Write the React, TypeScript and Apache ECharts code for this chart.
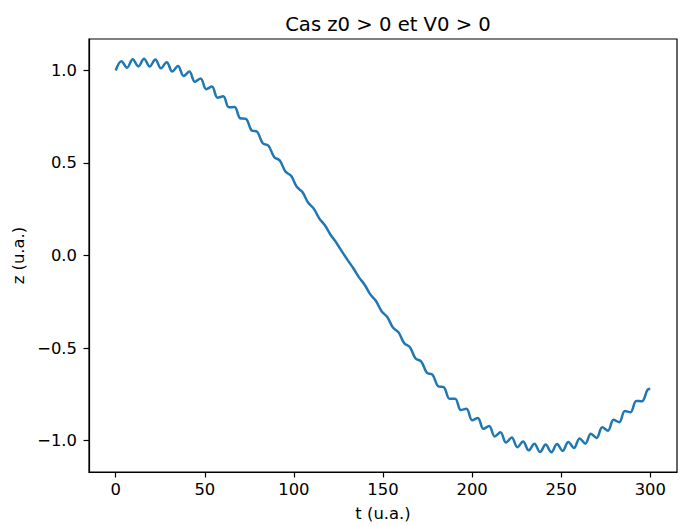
import React, { useEffect, useRef } from "react";
import * as echarts from "echarts";

// Time samples (t, u.a.) read at the fast-oscillation extrema, plus the end point
const tValues = [
  0, 3.18, 6.35, 9.53, 12.7, 15.88, 19.05, 22.23, 25.4, 28.58,
  31.75, 34.93, 38.1, 41.28, 44.45, 47.63, 50.8, 53.98, 57.15, 60.33,
  63.5, 66.68, 69.85, 73.03, 76.2, 79.38, 82.55, 85.73, 88.9, 92.08,
  95.25, 98.43, 101.6, 104.78, 107.95, 111.13, 114.3, 117.48, 120.65, 123.83,
  127, 130.18, 133.35, 136.53, 139.7, 142.88, 146.05, 149.23, 152.4, 155.58,
  158.75, 161.93, 165.1, 168.28, 171.45, 174.63, 177.8, 180.98, 184.15, 187.33,
  190.5, 193.68, 196.85, 200.03, 203.2, 206.38, 209.55, 212.73, 215.9, 219.08,
  222.25, 225.43, 228.6, 231.78, 234.95, 238.13, 241.3, 244.48, 247.65, 250.83,
  254, 257.18, 260.35, 263.53, 266.7, 269.88, 273.05, 276.23, 279.4, 282.58,
  285.75, 288.93, 292.1, 295.28, 298.45, 300,
];

// z values (u.a.) at those times
const zValues = [
  0.999, 1.049, 1.014, 1.06, 1.021, 1.063, 1.02, 1.058, 1.011, 1.044,
  0.994, 1.023, 0.969, 0.993, 0.938, 0.956, 0.898, 0.912, 0.852, 0.86,
  0.8, 0.802, 0.741, 0.738, 0.676, 0.668, 0.606, 0.593, 0.532, 0.513,
  0.453, 0.43, 0.371, 0.343, 0.286, 0.253, 0.199, 0.162, 0.111, 0.069,
  0.021, -0.025, -0.069, -0.118, -0.158, -0.21, -0.246, -0.301, -0.332, -0.389,
  -0.415, -0.474, -0.495, -0.556, -0.572, -0.633, -0.644, -0.706, -0.711, -0.773,
  -0.773, -0.834, -0.828, -0.889, -0.877, -0.936, -0.92, -0.977, -0.955, -1.01,
  -0.983, -1.035, -1.004, -1.052, -1.016, -1.061, -1.021, -1.062, -1.018, -1.055,
  -1.007, -1.039, -0.988, -1.016, -0.962, -0.985, -0.928, -0.946, -0.887, -0.9,
  -0.84, -0.846, -0.785, -0.787, -0.725, -0.719,
];

const xTicks = [0, 50, 100, 150, 200, 250, 300];
const yTicks = [-1, -0.5, 0, 0.5, 1];
const titleText = "Cas z0 > 0 et V0 > 0";
const xLabel = "t (u.a.)";
const yLabel = "z (u.a.)";

export default function App() {
  const ref = useRef<HTMLDivElement>(null);

  useEffect(() => {
    document.body.style.margin = "0";
    const chart = echarts.init(ref.current as HTMLDivElement, null, { renderer: "svg" });
    const font = "DejaVu Sans";
    const fmtY = (v: number) => v.toFixed(1).replace("-", "\u2212");
    const data = tValues.map((t, i) => [t, zValues[i]]);

    chart.setOption({
      animation: false,
      backgroundColor: "#ffffff",
      title: {
        text: titleText,
        left: 383,
        top: 9,
        textAlign: "center",
        textStyle: { fontFamily: font, fontSize: 19.6, fontWeight: "normal", color: "#000" },
      },
      grid: {
        left: 89,
        top: 39,
        width: 588,
        height: 439,
        show: true,
        borderColor: "#000",
        borderWidth: 1.2,
        backgroundColor: "transparent",
      },
      xAxis: {
        type: "value",
        min: -15,
        max: 315,
        name: xLabel,
        nameLocation: "middle",
        nameGap: 33,
        nameTextStyle: { fontFamily: font, fontSize: 16.4, color: "#000" },
        axisLine: { show: true, onZero: false, lineStyle: { color: "#000", width: 1.2 } },
        axisTick: { show: true, inside: false, length: 5.5, lineStyle: { color: "#000", width: 1.2 }, customValues: xTicks },
        axisLabel: {
          customValues: xTicks,
          formatter: (v: number) => String(v),
          margin: 9,
          fontFamily: font,
          fontSize: 16.4,
          color: "#000",
        },
        splitLine: { show: false },
      },
      yAxis: {
        type: "value",
        min: -1.169,
        max: 1.169,
        name: yLabel,
        nameLocation: "middle",
        nameGap: 58,
        nameRotate: 90,
        nameTextStyle: { fontFamily: font, fontSize: 16.4, color: "#000" },
        axisLine: { show: true, onZero: false, lineStyle: { color: "#000", width: 1.2 } },
        axisTick: { show: true, inside: false, length: 5.5, lineStyle: { color: "#000", width: 1.2 }, customValues: yTicks },
        axisLabel: {
          customValues: yTicks,
          formatter: fmtY,
          margin: 12,
          fontFamily: font,
          fontSize: 16.4,
          color: "#000",
        },
        splitLine: { show: false },
      },
      series: [
        {
          type: "line",
          data,
          showSymbol: false,
          smooth: 0.36,
          lineStyle: { color: "#1f77b4", width: 2.5 },
          itemStyle: { color: "#1f77b4" },
        },
      ],
    });

    return () => {
      chart.dispose();
    };
  }, []);

  return (
    <div
      ref={ref}
      style={{ position: "absolute", left: 0, top: 0, width: 688, height: 526 }}
    />
  );
}
